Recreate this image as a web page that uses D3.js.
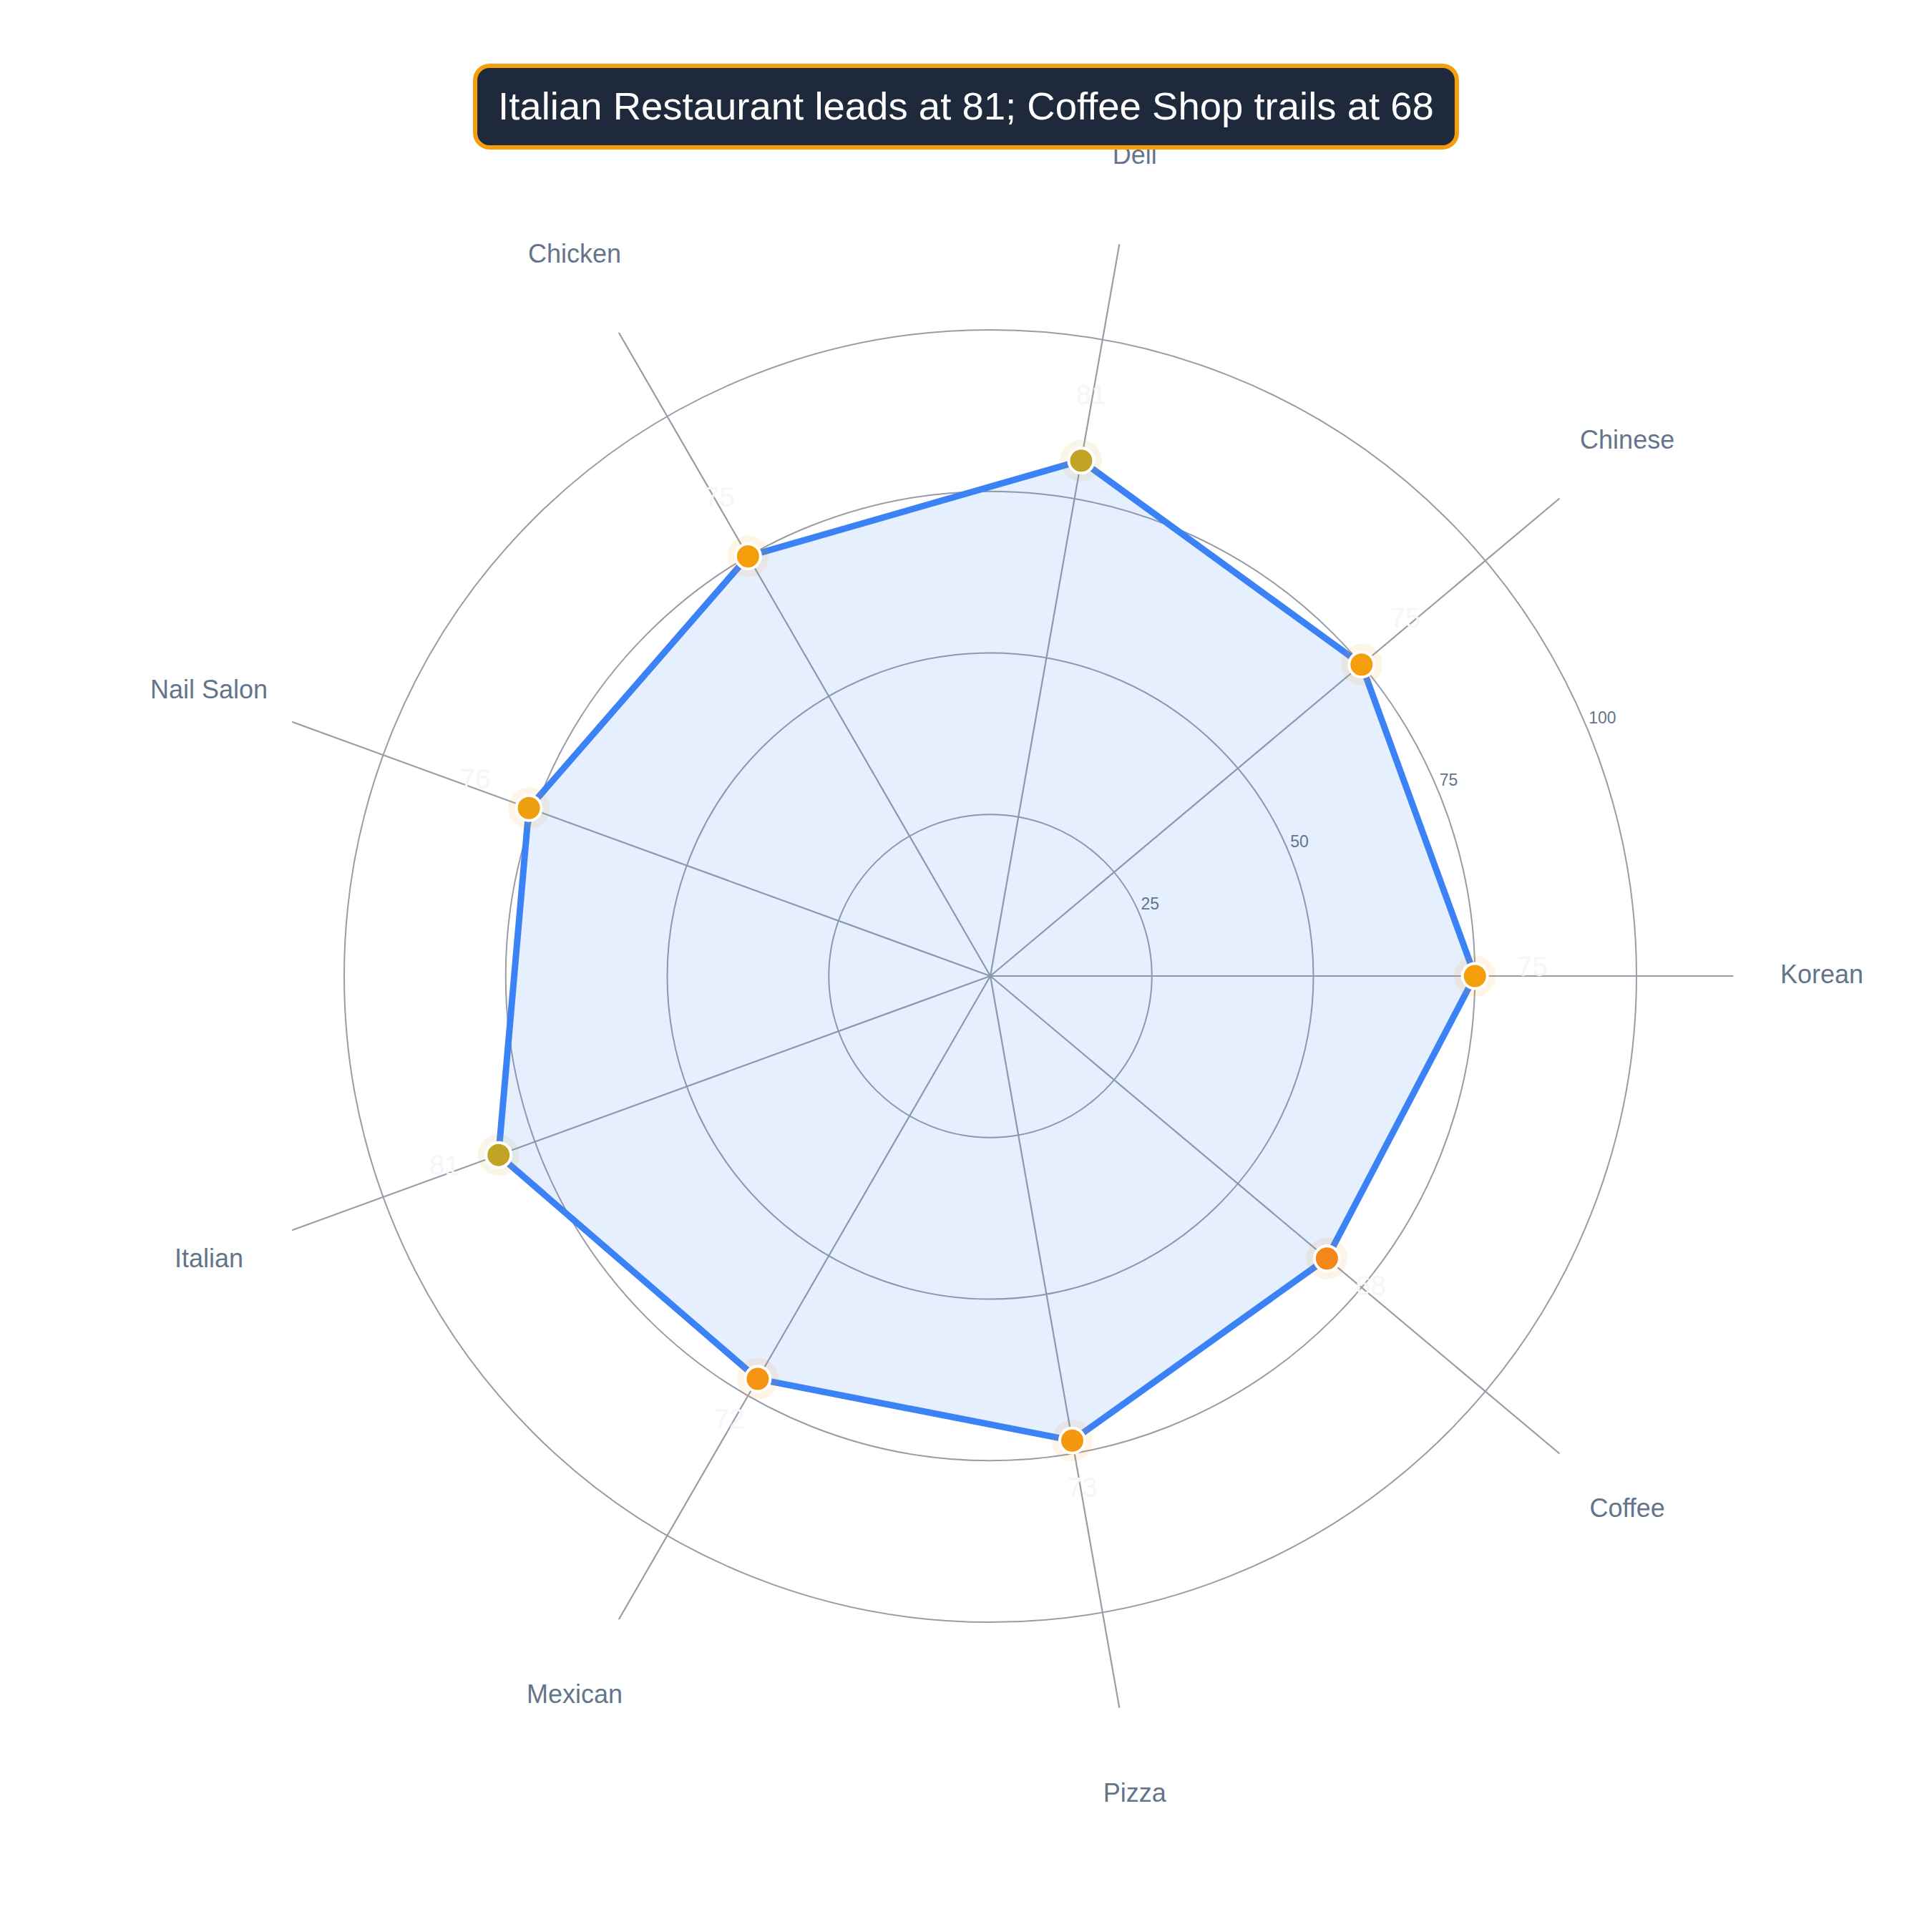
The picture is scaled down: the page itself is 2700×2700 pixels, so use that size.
<!DOCTYPE html>
<html>
<head>
<meta charset="utf-8">
<script src="https://cdn.jsdelivr.net/npm/d3@7"></script>
<style>
  body { margin: 0; background: #fff; }
  svg { display: block; }
</style>
</head>
<body>
<div id="chart"></div>
<script>
'use strict';

// data
let categories = ['Korean', 'Chinese', 'Deli', 'Chicken', 'Nail Salon', 'Italian', 'Mexican', 'Pizza', 'Coffee'];
let scores = [75, 75, 81, 75, 76, 81, 72, 73, 68];
let ringTicks = [25, 50, 75, 100];
let titleText = 'Italian Restaurant leads at 81; Coffee Shop trails at 68';

let width = 2700;
let height = 2700;
let cx = 1384;
let cy = 1364;
let radius = 903;

let svg = d3.select('#chart')
  .append('svg')
  .attr('width', width)
  .attr('height', height);

let rScale = d3.scaleLinear().domain([0, 100]).range([0, radius]);

// angle per category, counterclockwise from the right
let angle = i => (i * 2 * Math.PI) / categories.length;
let px = (i, r) => cx + r * Math.cos(angle(i));
let py = (i, r) => cy - r * Math.sin(angle(i));

let mean = d3.mean(scores);
let colorScale = d3.scaleLinear()
  .domain([d3.min(scores), mean, d3.max(scores)])
  .range(['#f5861a', '#f59e0b', '#c1a326']);

let font = '"Liberation Sans", Arial, Helvetica, sans-serif';
let gridColor = '#979ca6';

//grid rings
svg.append('g').attr('class', 'rings')
  .selectAll('circle')
  .data(ringTicks)
  .enter()
  .append('circle')
  .attr('cx', cx)
  .attr('cy', cy)
  .attr('r', d => rScale(d))
  .attr('fill', 'none')
  .attr('stroke', gridColor)
  .attr('stroke-width', 2);

//spokes, they run past the outer ring
svg.append('g').attr('class', 'spokes')
  .selectAll('line')
  .data(categories)
  .enter()
  .append('line')
  .attr('x1', cx)
  .attr('y1', cy)
  .attr('x2', (d, i) => px(i, rScale(115)))
  .attr('y2', (d, i) => py(i, rScale(115)))
  .attr('stroke', gridColor)
  .attr('stroke-width', 2.2);

//the score shape
let radar = d3.lineRadial()
  .angle((d, i) => Math.PI / 2 - angle(i))
  .radius(d => rScale(d))
  .curve(d3.curveLinearClosed);

svg.append('path')
  .datum(scores)
  .attr('transform', `translate(${cx}, ${cy})`)
  .attr('d', radar)
  .attr('fill', '#3b82f6')
  .attr('fill-opacity', 0.13)
  .attr('stroke', '#3b82f6')
  .attr('stroke-width', 9)
  .attr('stroke-linejoin', 'round');

//ring tick labels
svg.append('g').attr('class', 'ringLabels')
  .selectAll('text')
  .data(ringTicks)
  .enter()
  .append('text')
  .attr('x', d => cx + rScale(d) * Math.cos(Math.PI / 8) + 2)
  .attr('y', d => cy - rScale(d) * Math.sin(Math.PI / 8) - 7)
  .attr('font-family', font)
  .attr('font-size', 23)
  .attr('fill', '#64748b')
  .text(d => d);

//dots with a soft halo
let dots = svg.append('g').attr('class', 'dots')
  .selectAll('g')
  .data(scores)
  .enter()
  .append('g');

dots.append('circle')
  .attr('cx', (d, i) => px(i, rScale(d)))
  .attr('cy', (d, i) => py(i, rScale(d)))
  .attr('r', 29)
  .attr('fill', d => colorScale(d))
  .attr('fill-opacity', 0.1);

dots.append('circle')
  .attr('cx', (d, i) => px(i, rScale(d)))
  .attr('cy', (d, i) => py(i, rScale(d)))
  .attr('r', 17.5)
  .attr('fill', d => colorScale(d))
  .attr('stroke', '#fff')
  .attr('stroke-width', 4);

//value labels, nearly white
svg.append('g').attr('class', 'valueLabels')
  .selectAll('text')
  .data(scores)
  .enter()
  .append('text')
  .attr('x', (d, i) => px(i, rScale(d) + 80))
  .attr('y', (d, i) => py(i, rScale(d) + 80))
  .attr('text-anchor', 'middle')
  .attr('font-family', font)
  .attr('font-size', 38)
  .attr('fill', '#f4f6f9')
  .text(d => d);

//category labels
svg.append('g').attr('class', 'catLabels')
  .selectAll('text')
  .data(categories)
  .enter()
  .append('text')
  .attr('x', (d, i) => px(i, 1162))
  .attr('y', (d, i) => py(i, 1162) - 3)
  .attr('text-anchor', 'middle')
  .attr('dominant-baseline', 'central')
  .attr('font-family', font)
  .attr('font-size', 36)
  .attr('fill', '#64748b')
  .text(d => d);

//title badge
let titleG = svg.append('g').attr('class', 'title');
let titleBox = titleG.append('rect');
let title = titleG.append('text')
  .attr('x', width / 2)
  .attr('y', 148)
  .attr('text-anchor', 'middle')
  .attr('dominant-baseline', 'central')
  .attr('font-family', font)
  .attr('font-size', 54.5)
  .attr('fill', '#fff')
  .text(titleText);

let tw = title.node().getComputedTextLength();
titleBox
  .attr('x', width / 2 - tw / 2 - 32)
  .attr('y', 92)
  .attr('width', tw + 64)
  .attr('height', 114)
  .attr('rx', 20)
  .attr('fill', '#1e293b')
  .attr('stroke', '#f59e0b')
  .attr('stroke-width', 6);
</script>
</body>
</html>
